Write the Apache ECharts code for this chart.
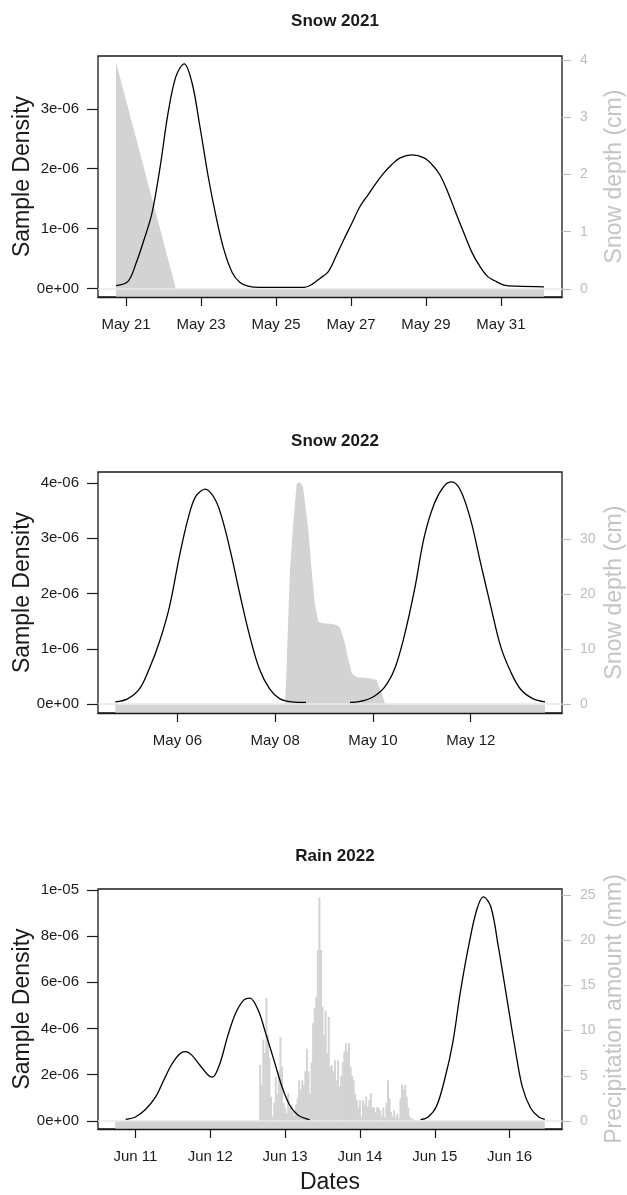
<!DOCTYPE html>
<html><head><meta charset="utf-8">
<script src="https://cdn.jsdelivr.net/npm/echarts@6/dist/echarts.min.js"></script>
<style>html,body{margin:0;padding:0;background:#fff}#c{width:627px;height:1195px}</style>
</head><body><div id="c"></div><script>
// ---------- Panel 1: Snow 2021 (x = day of May, 32 = Jun 1; density in units of 1e-6) ----------
const snow21Density = [[20.73,0.05],[21.05,0.12],[21.27,0.43],[21.48,0.82],[21.69,1.26],[21.91,2.04],[22.12,2.93],[22.33,3.54],[22.55,3.75],[22.76,3.43],[22.97,2.70],[23.19,1.87],[23.40,1.20],[23.61,0.65],[23.83,0.27],[24.04,0.10],[24.25,0.04],[24.57,0.02],[25.75,0.02],[25.96,0.07],[26.17,0.17],[26.39,0.28],[26.60,0.54],[26.81,0.82],[27.03,1.10],[27.24,1.37],[27.45,1.56],[27.67,1.76],[27.88,1.93],[28.09,2.07],[28.31,2.18],[28.63,2.23],[28.95,2.18],[29.16,2.07],[29.37,1.90],[29.59,1.60],[29.80,1.26],[30.01,0.93],[30.23,0.60],[30.44,0.37],[30.65,0.20],[30.87,0.12],[31.08,0.06],[31.40,0.04],[32.15,0.03]];
const snow21Depth = [[20.73,3.96],[22.33,0],[32.15,0]];
const snow21XTicks = [21,23,25,27,29,31];
const snow21XLabels = ['May 21','May 23','May 25','May 27','May 29','May 31'];
const snow21DensTicks = [0,1,2,3];
const snow21DensLabels = ['0e+00','1e-06','2e-06','3e-06'];
const snow21DepthTicks = [0,1,2,3,4];

// ---------- Panel 2: Snow 2022 (x = day of May) ----------
const snow22DensityA = [[4.73,0.04],[4.97,0.09],[5.22,0.27],[5.42,0.63],[5.63,1.12],[5.84,1.77],[6.04,2.67],[6.21,3.33],[6.37,3.75],[6.57,3.89],[6.78,3.69],[6.94,3.28],[7.11,2.67],[7.27,2.02],[7.48,1.23],[7.68,0.63],[7.89,0.27],[8.09,0.10],[8.34,0.04],[8.63,0.03]];
const snow22DensityB = [[9.53,0.03],[9.74,0.05],[9.98,0.12],[10.23,0.30],[10.44,0.63],[10.64,1.23],[10.85,2.07],[11.05,3.03],[11.26,3.64],[11.46,3.95],[11.61,4.02],[11.79,3.87],[12.00,3.33],[12.20,2.56],[12.41,1.77],[12.61,1.05],[12.82,0.58],[13.02,0.27],[13.27,0.10],[13.52,0.04]];
const snow22Depth = [[4.73,0],[8.20,0],[8.23,6],[8.30,24],[8.37,33],[8.44,40],[8.505,40.4],[8.57,39.5],[8.68,31.6],[8.745,24.4],[8.81,18.3],[8.88,15.0],[8.98,14.7],[9.12,14.6],[9.26,14.4],[9.33,13.8],[9.43,11.0],[9.50,8.0],[9.57,5.6],[9.67,4.9],[9.94,4.7],[10.08,4.4],[10.11,3.5],[10.18,2.0],[10.25,0],[13.52,0]];
const snow22XTicks = [6,8,10,12];
const snow22XLabels = ['May 06','May 08','May 10','May 12'];
const snow22DensTicks = [0,1,2,3,4];
const snow22DensLabels = ['0e+00','1e-06','2e-06','3e-06','4e-06'];
const snow22DepthTicks = [0,10,20,30];

// ---------- Panel 3: Rain 2022 (x = day of June) ----------
const rain22DensityA = [[10.87,0.07],[11.00,0.17],[11.13,0.48],[11.27,1.04],[11.38,1.77],[11.48,2.42],[11.59,2.90],[11.67,3.00],[11.75,2.86],[11.86,2.42],[11.97,1.99],[12.03,1.90],[12.13,2.50],[12.23,3.64],[12.34,4.67],[12.45,5.24],[12.53,5.32],[12.64,4.80],[12.74,3.80],[12.85,2.64],[12.96,1.47],[13.06,0.69],[13.17,0.26],[13.33,0.05]];
const rain22DensityB = [[14.81,0.05],[14.91,0.17],[15.02,0.61],[15.13,1.77],[15.24,3.38],[15.34,5.54],[15.45,7.53],[15.56,9.13],[15.65,9.70],[15.75,9.26],[15.85,7.53],[15.96,5.37],[16.07,3.20],[16.17,1.47],[16.28,0.56],[16.39,0.17],[16.47,0.07]];
const rain22Range = [10.73,16.47];          // observation window (zero-precip band)
const rain22Start = 12.6667;                 // Jun 12 16:00
const rain22Step = 1/48;                     // 30 min
const rain22Values = [6.2,4.0,9.0,7.5,13.6,9.5,7.0,2.7,0.5,2.0,4.9,3.0,5.5,9.3,6.0,2.0,1.5,0.9,3.1,1.5,1.8,1.0,0.6,1.8,2.5,4.5,3.5,4.5,4.0,5.5,8.0,5.5,3.0,6.5,10.8,12.5,13.7,18.9,24.7,18.9,12.6,9.5,12.2,7.5,11.5,6.0,6.2,5.5,6.7,4.5,6.7,3.8,5.0,6.5,7.7,8.6,7.7,8.6,6.0,5.0,4.5,3.0,2.3,1.5,2.3,0.5,2.3,1.8,2.7,1.6,2.3,3.1,1.5,1.5,1.0,1.5,1.5,1.2,0.6,1.5,0.4,2.0,4.5,2.5,1.0,0.5,1.2,0.4,0.8,0.3,2.5,4.0,3.5,4.0,2.7,1.5,0.5,0.3,0.2];
const rain22XTicks = [11,12,13,14,15,16];
const rain22XLabels = ['Jun 11','Jun 12','Jun 13','Jun 14','Jun 15','Jun 16'];
const rain22DensTicks = [0,2,4,6,8,10];
const rain22DensLabels = ['0e+00','2e-06','4e-06','6e-06','8e-06','1e-05'];
const rain22RainTicks = [0,5,10,15,20,25];

// ---------- build ----------
const FONT = "'Liberation Sans', Arial, sans-serif";
const INK = '#1a1a1a', GREY_AX = '#bdbdbd', FILL = '#d3d3d3';
const rainBars = rain22Values.map((v,i)=>[rain22Start + i*rain22Step, v]);

const panels = [
  {title:'Snow 2021', top:56, height:241, titleTop:8, xmin:20.25, xmax:32.63,
   xt:snow21XTicks, xl:snow21XLabels, dmin:-0.14, dmax:3.88, dt:snow21DensTicks, dl:snow21DensLabels,
   rmin:-0.14, rmax:4.07, rt:snow21DepthTicks, rname:'Snow depth (cm)',
   dens:[snow21Density], area:snow21Depth},
  {title:'Snow 2022', top:472, height:241, titleTop:428, xmin:4.376, xmax:13.867,
   xt:snow22XTicks, xl:snow22XLabels, dmin:-0.16, dmax:4.2, dt:snow22DensTicks, dl:snow22DensLabels,
   rmin:-1.6, rmax:42.2, rt:snow22DepthTicks, rname:'Snow depth (cm)',
   dens:[snow22DensityA, snow22DensityB], area:snow22Depth},
  {title:'Rain 2022', top:889, height:240, titleTop:843, xmin:10.50, xmax:16.70,
   xt:rain22XTicks, xl:rain22XLabels, dmin:-0.35, dmax:10.04, dt:rain22DensTicks, dl:rain22DensLabels,
   rmin:-0.88, rmax:25.64, rt:rain22RainTicks, rname:'Precipitation amount (mm)',
   dens:[rain22DensityA, rain22DensityB], area:[[rain22Range[0],0],[rain22Range[1],0]], bars:rainBars, xname:'Dates'}
];

const option = {animation:false, backgroundColor:'#fff', title:[], grid:[], xAxis:[], yAxis:[], series:[]};
panels.forEach((p,i)=>{
  option.title.push({text:p.title, left:330, textAlign:'center', top:p.titleTop,
    textStyle:{fontFamily:FONT, fontSize:17, fontWeight:'bold', color:INK}});
  option.grid.push({left:98, width:464, top:p.top, height:p.height, show:true,
    borderColor:INK, borderWidth:1.3, backgroundColor:'transparent', containLabel:false,
    outerBoundsMode:'none'});
  option.xAxis.push({gridIndex:i, type:'value', min:p.xmin, max:p.xmax, position:'bottom', z:6,
    axisLine:{show:true, onZero:false, lineStyle:{color:INK, width:1.3}},
    axisTick:{show:true, customValues:p.xt, length:9, lineStyle:{color:INK, width:1.2}},
    axisLabel:{customValues:p.xt, formatter:v=>p.xl[p.xt.indexOf(v)], margin:20,
      fontFamily:FONT, fontSize:15, color:INK},
    splitLine:{show:false},
    name:p.xname||'', nameLocation:'middle', nameGap:42, nameMoveOverlap:false,
    nameTextStyle:{fontFamily:FONT, fontSize:23, color:INK}});
  option.yAxis.push({gridIndex:i, type:'value', min:p.dmin, max:p.dmax, position:'left', z:6,
    axisLine:{show:false},
    axisTick:{show:true, customValues:p.dt, length:11, lineStyle:{color:INK, width:1.2}},
    axisLabel:{customValues:p.dt, formatter:v=>p.dl[p.dt.indexOf(v)], margin:19,
      fontFamily:FONT, fontSize:15, color:INK},
    splitLine:{show:false},
    name:'Sample Density', nameLocation:'middle', nameGap:64, nameMoveOverlap:false,
    nameTextStyle:{fontFamily:FONT, fontSize:23, color:INK}});
  option.yAxis.push({gridIndex:i, type:'value', min:p.rmin, max:p.rmax, position:'right', z:6,
    axisLine:{show:false},
    axisTick:{show:true, customValues:p.rt, length:9, lineStyle:{color:GREY_AX, width:1.2}},
    axisLabel:{customValues:p.rt, formatter:v=>String(v), margin:18,
      fontFamily:FONT, fontSize:14, color:GREY_AX},
    splitLine:{show:false},
    name:p.rname, nameLocation:'middle', nameGap:41, nameMoveOverlap:false,
    nameTextStyle:{fontFamily:FONT, fontSize:23, color:'#c4c4c4'}});
  option.series.push({type:'line', xAxisIndex:i, yAxisIndex:2*i+1, data:p.area, showSymbol:false,
    lineStyle:{width:0, color:FILL}, areaStyle:{color:FILL, opacity:1, origin:'start'}, z:1, silent:true,
    markLine:{silent:true, symbol:['none','none'], label:{show:false},
      lineStyle:{color:'#e9e9e9', width:1.5, type:'solid'}, data:[{yAxis:0}]}});
  if (p.bars) option.series.push({type:'bar', xAxisIndex:i, yAxisIndex:2*i+1, data:p.bars,
    barWidth:2, itemStyle:{color:FILL}, z:1, silent:true});
  p.dens.forEach(d=>option.series.push({type:'line', xAxisIndex:i, yAxisIndex:2*i, data:d,
    showSymbol:false, smooth:0.35, lineStyle:{color:'#000', width:1.3}, z:3, silent:true}));
});
echarts.init(document.getElementById('c'), null, {renderer:'canvas'}).setOption(option);
</script></body></html>
